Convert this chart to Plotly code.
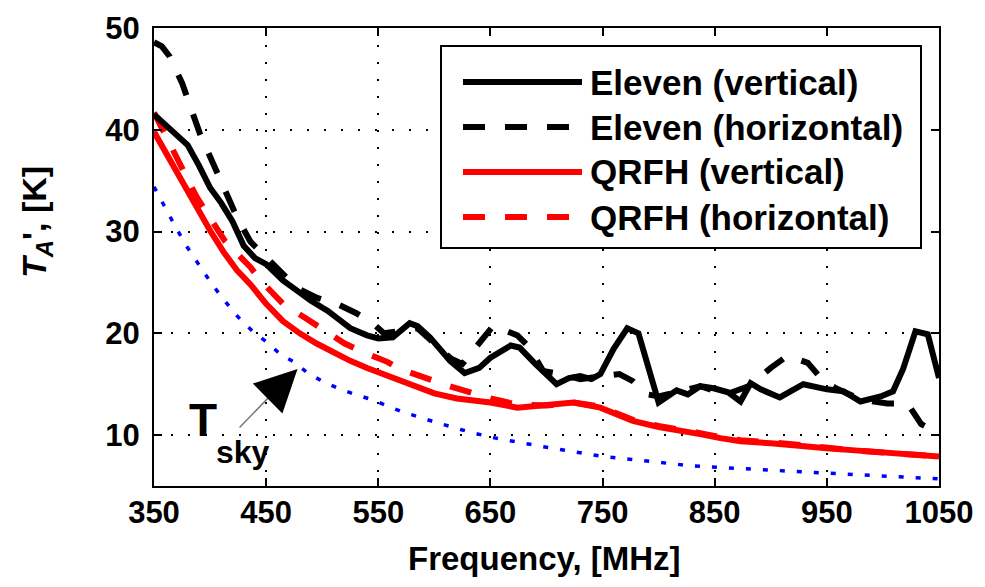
import plotly.graph_objects as go

# ---------------- data ----------------
f_ev = [350, 360, 370, 380, 390, 400, 410, 420, 430, 440, 450, 465, 480, 490, 505, 525, 540, 550,
        563, 578, 585, 596, 614, 627, 640, 650, 668, 676, 690, 709, 720, 730, 740, 748, 760, 772,
        782, 791, 800, 816, 826, 837, 849, 862, 873, 882, 891, 908, 929, 950, 965, 980, 998, 1009,
        1018, 1029, 1040, 1050]
t_ev = [41.5, 40.5, 39.6, 38.5, 36.5, 34.3, 32.8, 31.0, 28.6, 27.4, 26.8, 25.2, 24.0, 23.2, 22.2,
        20.5, 19.8, 19.5, 19.6, 21.0, 20.7, 19.6, 17.3, 16.1, 16.6, 17.6, 18.8, 18.6, 17.0, 15.0,
        15.6, 15.8, 15.5, 16.0, 18.5, 20.5, 20.0, 16.5, 13.2, 14.4, 14.0, 14.8, 14.6, 14.2, 13.3,
        15.1, 14.5, 13.7, 15.0, 14.5, 14.3, 13.3, 13.8, 14.3, 16.5, 20.2, 19.9, 15.6]

f_eh = [350, 357, 364, 375, 391, 409, 424, 436, 447, 460, 477, 495, 513, 530, 545, 555, 570, 585,
        600, 615, 625, 641, 653, 665, 674, 685, 697, 712, 730, 750, 765, 777, 790, 800, 819, 837,
        860, 880, 900, 915, 933, 947, 960, 980, 1004, 1022, 1034, 1050]
t_eh = [48.6, 48.2, 47.2, 44.6, 39.6, 35.3, 31.4, 29.0, 27.8, 26.2, 24.5, 23.5, 22.9, 22.0, 21.0,
        20.0, 20.3, 20.5, 19.0, 17.5, 17.0, 19.3, 20.8, 20.2, 19.8, 18.6, 16.3, 16.0, 15.5, 15.8,
        16.0, 15.3, 14.0, 13.8, 14.3, 14.8, 14.0, 14.8, 16.6, 17.8, 17.1, 15.3, 14.5, 13.5, 13.1,
        13.1, 11.1, 10.1]

f_qv = [350, 360, 370, 385, 400, 412, 424, 436, 450, 465, 480, 495, 510, 525, 540, 554, 569, 585,
        600, 620, 650, 674, 700, 724, 748, 762, 777, 800, 819, 837, 855, 873, 900, 925, 950, 975,
        1000, 1025, 1050]
t_qv = [39.8, 37.8, 36.0, 33.0, 30.1, 28.0, 26.2, 24.8, 22.9, 21.2, 20.0, 19.0, 18.1, 17.3, 16.6,
        16.0, 15.4, 14.6, 14.1, 13.6, 13.2, 12.7, 12.9, 13.2, 12.7, 12.0, 11.4, 10.8, 10.5, 10.1,
        9.7, 9.4, 9.2, 8.9, 8.7, 8.5, 8.3, 8.1, 7.9]

f_qh = [350, 360, 370, 388, 413, 436, 445, 465, 485, 504, 520, 540, 558, 569, 587, 614, 650, 674,
        700, 724, 748, 777, 800, 819, 837, 855, 873, 900, 925, 950, 975, 1000, 1025, 1050]
t_qh = [41.7, 39.5, 37.3, 33.4, 29.1, 26.5, 25.2, 22.9, 21.5, 20.2, 19.0, 18.0, 17.2, 16.5, 15.8,
        14.8, 13.6, 13.0, 12.9, 13.2, 12.8, 11.5, 10.9, 10.6, 10.2, 9.8, 9.5, 9.3, 9.0, 8.8, 8.5,
        8.3, 8.1, 7.9]

f_sky = [350, 360, 370, 380, 390, 400, 410, 425, 438, 451, 462, 476, 487, 500, 514, 529, 544, 571,
         600, 625, 650, 700, 750, 800, 828, 875, 950, 1000, 1050]
t_sky = [34.4, 32.3, 30.3, 28.4, 26.7, 25.1, 23.6, 21.6, 20.2, 19.1, 18.0, 17.1, 16.1, 15.3, 14.6,
         14.0, 13.5, 12.3, 11.3, 10.5, 9.8, 8.8, 7.9, 7.3, 7.0, 6.7, 6.3, 6.0, 5.7]

legend_names = ["Eleven (vertical)", "Eleven (horizontal)", "QRFH (vertical)", "QRFH (horizontal)"]
x_ticks = [350, 450, 550, 650, 750, 850, 950, 1050]
y_ticks = [10, 20, 30, 40, 50]

# ---------------- styling ----------------
FONT = "Liberation Sans"
DASH = "22px,20px"
styles = [
    dict(color="black", width=6, dash="solid"),
    dict(color="black", width=6, dash=DASH),
    dict(color="#ff0000", width=6, dash="solid"),
    dict(color="#ff0000", width=6, dash=DASH),
]

fig = go.Figure()
fig.add_trace(go.Scatter(x=f_sky, y=t_sky, mode="lines",
                         line=dict(color="#0000ff", width=3.5, dash="5px,12px"), showlegend=False))
series = [(f_qv, t_qv), (f_qh, t_qh), (f_ev, t_ev), (f_eh, t_eh)]
order = [2, 3, 0, 1]
for (fx, ty), idx in zip(series, order):
    fig.add_trace(go.Scatter(x=fx, y=ty, mode="lines", line=styles[idx],
                             name=legend_names[idx], showlegend=False))

# plot-area geometry in window pixels (the page body adds an 8 px offset)
OFF = 8
L, R, T, B = 154, 939, 28, 486
WIN_W, WIN_H = 985, 587
W, H = WIN_W - OFF, WIN_H - OFF
def px(xp):
    return (xp - L) / (R - L)
def py(yp):
    return (B - yp) / (B - T)

shapes = []
annotations = []
# manual legend
shapes.append(dict(type="rect", xref="paper", yref="paper", x0=px(441), x1=px(921),
                   y0=py(248), y1=py(46), line=dict(color="black", width=2),
                   fillcolor="white", layer="above"))
rows = [82, 127, 172, 217]
for i, yy in enumerate(rows):
    st = styles[i]
    shapes.append(dict(type="line", xref="paper", yref="paper", x0=px(463), x1=px(582),
                       y0=py(yy), y1=py(yy), layer="above",
                       line=dict(color=st["color"], width=st["width"], dash=st["dash"])))
    annotations.append(dict(xref="paper", yref="paper", x=px(588), y=py(yy), text=f"<b>{legend_names[i]}</b>",
                            showarrow=False, xanchor="left", yanchor="middle",
                            font=dict(family=FONT, size=35, color="black")))

# axis titles
annotations.append(dict(xref="paper", yref="paper", x=px(544), y=py(558),
                        text="<b>Frequency, [MHz]</b>", showarrow=False, xanchor="center",
                        yanchor="middle", font=dict(family=FONT, size=33, color="black")))
annotations.append(dict(xref="paper", yref="paper", x=px(36), y=py(222),
                        text="<b><i>T</i><sub><i>A</i></sub>', [K]</b>", showarrow=False, textangle=-90,
                        xanchor="center", yanchor="middle",
                        font=dict(family=FONT, size=34, color="black")))

# T_sky label and arrow
annotations.append(dict(xref="paper", yref="paper", x=px(203), y=py(420), text="<b>T</b>",
                        showarrow=False, xanchor="center", yanchor="middle",
                        font=dict(family=FONT, size=46, color="black")))
annotations.append(dict(xref="paper", yref="paper", x=px(243), y=py(452), text="<b>sky</b>",
                        showarrow=False, xanchor="center", yanchor="middle",
                        font=dict(family=FONT, size=32, color="black")))
annotations.append(dict(x=468, y=15.5, ax=425, ay=10.6, xref="x", yref="y", axref="x", ayref="y",
                        text="", showarrow=True, arrowhead=0, arrowwidth=1.5, arrowcolor="#777777"))
annotations.append(dict(x=478, y=16.5, ax=455, ay=14.0, xref="x", yref="y", axref="x", ayref="y",
                        text="", showarrow=True, arrowhead=2, arrowsize=2.8, arrowwidth=3,
                        arrowcolor="black"))

axis_common = dict(showline=True, linecolor="black", linewidth=2, mirror="ticks",
                   ticks="inside", ticklen=8, tickwidth=2, tickcolor="black",
                   showgrid=True, gridcolor="black", gridwidth=2, griddash="2px,15px",
                   zeroline=False, automargin=False,
                   tickfont=dict(family=FONT, size=31, color="black", weight="bold"))

fig.update_layout(
    width=W, height=H,
    margin=dict(l=L - OFF, r=WIN_W - R, t=T - OFF, b=WIN_H - B, autoexpand=False),
    paper_bgcolor="white", plot_bgcolor="white",
    showlegend=False,
    shapes=shapes, annotations=annotations,
    xaxis=dict(range=[350, 1050], tickvals=x_ticks, ticktext=[str(v) for v in x_ticks],
               **axis_common),
    yaxis=dict(range=[5, 50], tickvals=y_ticks, ticktext=[str(v) for v in y_ticks],
               **axis_common),
)
fig.update_xaxes(ticklabelstandoff=-2)
fig.update_yaxes(ticklabelstandoff=6)

fig.write_html("out.html")
